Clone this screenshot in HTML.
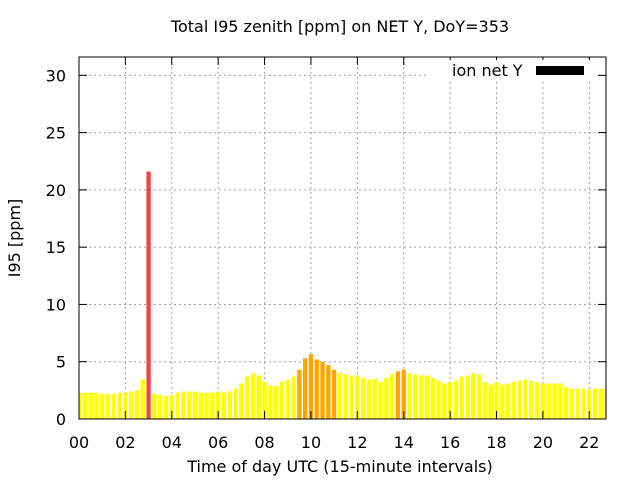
<!DOCTYPE html>
<html><head><meta charset="utf-8"><style>
body{margin:0;background:#fff}
svg{display:block;font-family:"DejaVu Sans","Liberation Sans",sans-serif}
</style></head><body>
<svg id="c" width="640" height="480">
<text x="340" y="32" font-size="16" text-anchor="middle">Total I95 zenith [ppm] on NET Y, DoY=353</text>
<text x="340" y="472" font-size="16" text-anchor="middle">Time of day UTC (15-minute intervals)</text>
<text transform="translate(20,238) rotate(-90)" font-size="16" text-anchor="middle">I95 [ppm]</text>
<g id="grid"></g><g id="bars"></g><g id="axes"></g>
<rect x="426" y="60" width="170" height="20" fill="#fff"/>
<text x="452" y="76" font-size="16">ion net Y</text>
<rect x="536" y="66" width="48" height="9" fill="#000"/>
</svg>
<script>
const values=[2.3,2.3,2.3,2.3,2.2,2.2,2.2,2.3,2.3,2.4,2.5,3.45,21.6,2.2,2.1,2.0,2.1,2.3,2.4,2.4,2.4,2.3,2.3,2.3,2.4,2.3,2.4,2.65,3.1,3.7,4.0,3.8,3.25,2.9,2.9,3.25,3.45,3.7,4.3,5.3,5.65,5.2,5.0,4.7,4.3,4.05,3.9,3.8,3.8,3.6,3.45,3.5,3.25,3.6,3.9,4.15,4.3,4.0,3.9,3.8,3.8,3.6,3.35,3.1,3.2,3.35,3.7,3.8,4.0,3.9,3.2,3.0,3.2,3.0,3.1,3.25,3.35,3.45,3.35,3.2,3.1,3.1,3.1,3.1,2.8,2.65,2.65,2.65,2.55,2.65,2.65,2.65];
const xTicks=["00","02","04","06","08","10","12","14","16","18","20","22"];
const yTicks=[0,5,10,15,20,25,30];
const L=79,R=606,T=57,B=419,XMAX=22.72,YMAX=31.6;
const X=h=>L+h/XMAX*(R-L), Y=v=>B-v/YMAX*(B-T);
const NS="http://www.w3.org/2000/svg";
function mk(t,a,p){const e=document.createElementNS(NS,t);for(const k in a)e.setAttribute(k,a[k]);p.appendChild(e);return e;}
const g=document.getElementById('grid'),b=document.getElementById('bars'),ax=document.getElementById('axes');
yTicks.forEach(v=>{const y=Y(v);
 if(v>0){const l=mk('line',{x1:L,x2:R,y1:y,y2:y,stroke:'#a0a0a0','stroke-dasharray':'2,3'},g);}
 mk('line',{x1:L,x2:L+8,y1:y,y2:y,stroke:'#000'},ax);mk('line',{x1:R,x2:R-8,y1:y,y2:y,stroke:'#000'},ax);
 const t=mk('text',{x:L-13,y:y+6,'font-size':16,'text-anchor':'end'},ax);t.textContent=v;
 });
xTicks.forEach((s,i)=>{const x=X(i*2);
 if(i>0){const l=mk('line',{x1:x,x2:x,y1:T,y2:B,stroke:'#a0a0a0','stroke-dasharray':'2,3'},g);}
 mk('line',{x1:x,x2:x,y1:B,y2:B-8,stroke:'#000'},ax);mk('line',{x1:x,x2:x,y1:T,y2:T+8,stroke:'#000'},ax);
 const t=mk('text',{x:x,y:B+29,'font-size':16,'text-anchor':'middle'},ax);t.textContent=s;
 });
const bw=4.3;
values.forEach((v,i)=>{const cx=X(i*0.25);let x0=Math.max(L,cx-bw/2),x1=Math.min(R,cx+bw/2);if(x1<=x0)return;
 const col=v>10?'#ee4444':(v>=4.1?'#ffa500':'#ffff00');
 const r=mk('rect',{x:x0,y:Y(v),width:x1-x0,height:B-Y(v),fill:col},b);
 });
const fr=mk('rect',{x:L,y:T,width:R-L,height:B-T,fill:'none',stroke:'#000'},ax);

</script>
</body></html>
